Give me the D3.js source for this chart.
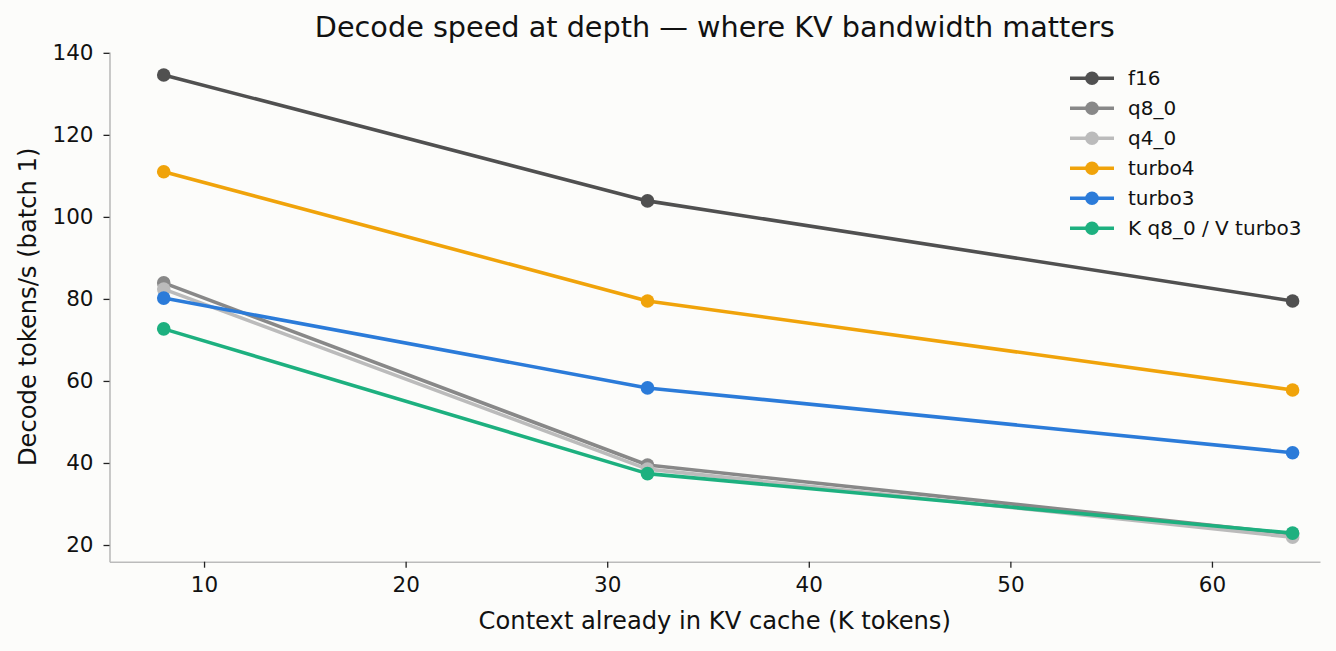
<!DOCTYPE html>
<html lang="en">
<head>
<meta charset="UTF-8">
<title>Decode speed at depth</title>
<style>
  html, body { margin: 0; padding: 0; background: #fcfcfa; }
  svg { display: block; font-family: "DejaVu Sans", sans-serif; }
</style>
</head>
<body>
<svg width="1336" height="651"></svg>
<script src="https://cdn.jsdelivr.net/npm/d3@7"></script>
<script>
    // context depth (K tokens)
    const contexts = [8, 32, 64];

    const seriesNames = ["f16", "q8_0", "q4_0", "turbo4", "turbo3", "K q8_0 / V turbo3"];
    const seriesColors = ["#505050", "#888888", "#bbbbbb", "#f0a30a", "#2b7bd9", "#1db07f"];

    // decode tokens/s, batch 1
    const f16 = [134.6, 103.9, 79.5];
    const q8_0 = [83.9, 39.5, 22.7];
    const q4_0 = [82.4, 38.5, 21.9];
    const turbo4 = [111.0, 79.5, 57.8];
    const turbo3 = [80.2, 58.3, 42.5];
    const kq8_vturbo3 = [72.7, 37.4, 22.9];

    const xTicks = [10, 20, 30, 40, 50, 60];
    const yTicks = [20, 40, 60, 80, 100, 120, 140];

    const values = [f16, q8_0, q4_0, turbo4, turbo3, kq8_vturbo3];
    const series = seriesNames.map((name, i) => ({
        name: name,
        color: seriesColors[i],
        points: contexts.map((c, j) => ({x: c, y: values[i][j]}))
    }));

    const svg = d3.select("svg");
    const m = {left: 109.5, right: 1320, top: 52, bottom: 561.7};

    const x = d3.scaleLinear().domain([5.31, 65.36]).range([m.left, m.right]);
    const y = d3.scaleLinear().domain([15.93, 140.2]).range([m.bottom, m.top]);

    // axes
    const xAxis = svg.append("g")
        .attr("transform", `translate(0,${m.bottom})`)
        .call(d3.axisBottom(x).tickValues(xTicks).tickSize(6).tickSizeOuter(0).tickPadding(9.5));
    const yAxis = svg.append("g")
        .attr("transform", `translate(${m.left},0)`)
        .call(d3.axisLeft(y).tickValues(yTicks).tickSize(6).tickSizeOuter(0).tickPadding(10));

    [xAxis, yAxis].forEach(a => {
        a.select(".domain").attr("stroke", "#bbbbbb").attr("stroke-width", 1.6);
        a.selectAll(".tick line").attr("stroke", "#222").attr("stroke-width", 1.3);
        a.selectAll(".tick text")
            .attr("fill", "#111")
            .style("font-size", "21.5px")
            .style("font-family", "DejaVu Sans, sans-serif");
    });

    // lines
    const line = d3.line().x(d => x(d.x)).y(d => y(d.y));
    const gs = svg.append("g").selectAll("g")
        .data(series)
        .enter().append("g");
    gs.append("path")
        .attr("fill", "none")
        .attr("stroke", d => d.color)
        .attr("stroke-width", 3.6)
        .attr("stroke-linejoin", "round")
        .attr("d", d => line(d.points));
    gs.selectAll("circle")
        .data(d => d.points.map(p => Object.assign({color: d.color}, p)))
        .enter().append("circle")
        .attr("cx", d => x(d.x))
        .attr("cy", d => y(d.y))
        .attr("r", 6.8)
        .attr("fill", d => d.color);

    // title and labels
    svg.append("text")
        .attr("x", (m.left + m.right) / 2)
        .attr("y", 37)
        .attr("text-anchor", "middle")
        .style("font-size", "28.7px")
        .attr("fill", "#111")
        .text("Decode speed at depth \u2014 where KV bandwidth matters");

    svg.append("text")
        .attr("x", (m.left + m.right) / 2)
        .attr("y", 629)
        .attr("text-anchor", "middle")
        .style("font-size", "24.2px")
        .attr("fill", "#111")
        .text("Context already in KV cache (K tokens)");

    svg.append("text")
        .attr("transform", `translate(36,${(m.top + m.bottom) / 2}) rotate(-90)`)
        .attr("text-anchor", "middle")
        .style("font-size", "24.2px")
        .attr("fill", "#111")
        .text("Decode tokens/s (batch 1)");

    // legend
    const legend = svg.append("g").attr("transform", "translate(1070,78.3)");
    const items = legend.selectAll("g")
        .data(series)
        .enter().append("g")
        .attr("transform", (d, i) => `translate(0,${i * 30})`);
    items.append("line")
        .attr("x1", 0).attr("x2", 44)
        .attr("stroke", d => d.color)
        .attr("stroke-width", 3.6);
    items.append("circle")
        .attr("cx", 22)
        .attr("r", 6.8)
        .attr("fill", d => d.color);
    items.append("text")
        .attr("x", 58)
        .attr("dy", "0.35em")
        .style("font-size", "20px")
        .attr("fill", "#111")
        .text(d => d.name);
</script>
</body>
</html>
